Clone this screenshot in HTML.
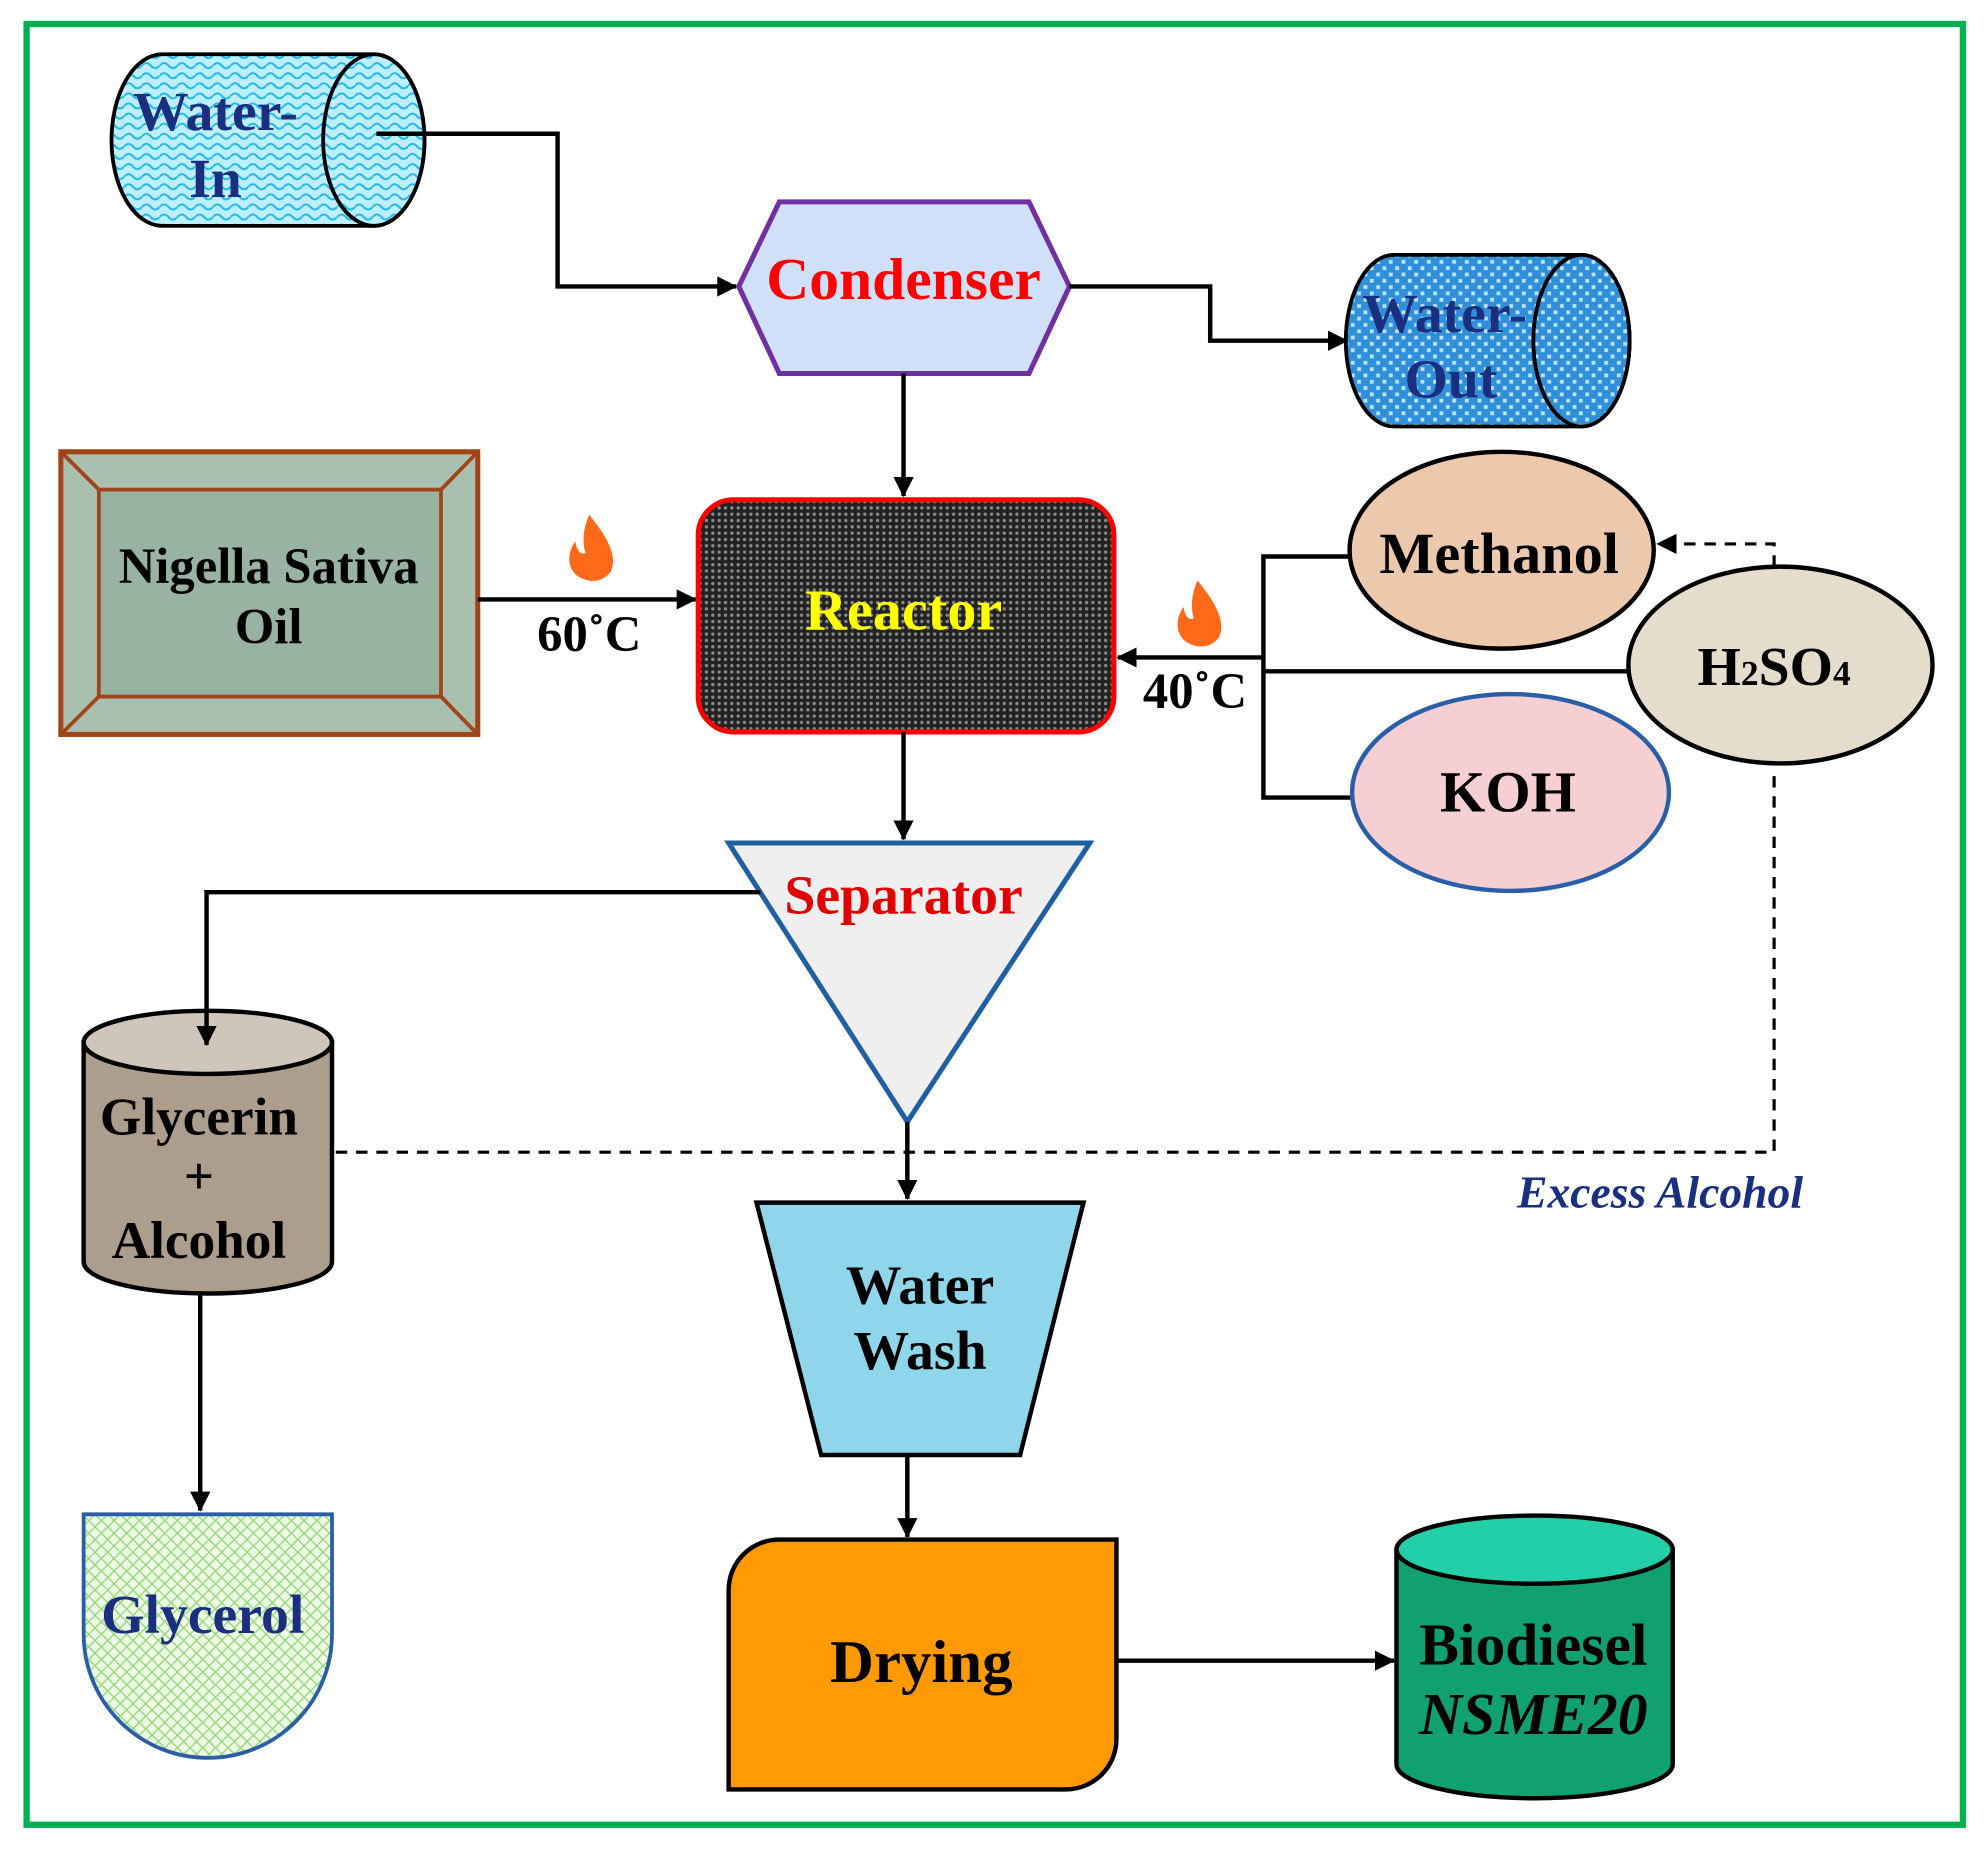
<!DOCTYPE html>
<html><head><meta charset="utf-8"><style>
html,body{margin:0;padding:0;background:#fff;}
svg{display:block;}
text{font-family:"Liberation Serif",serif;font-weight:bold;text-anchor:middle;}
</style></head><body>
<svg width="1987" height="1850" viewBox="0 0 1568 1466" preserveAspectRatio="none" xmlns="http://www.w3.org/2000/svg">
<defs>
<marker id="ar2" markerWidth="16" markerHeight="16" refX="15" refY="8" orient="auto" markerUnits="userSpaceOnUse"><path d="M0,0 L16,8 L0,16 Z" fill="#000"/></marker>
<pattern id="wave" width="14" height="8" patternUnits="userSpaceOnUse"><rect width="14" height="8" fill="#bdefff"/><path d="M0,4 Q3.5,0 7,4 T14,4" stroke="#22b8e8" stroke-width="1.6" fill="none"/></pattern>
<pattern id="dots" width="5" height="5" patternUnits="userSpaceOnUse"><rect width="5" height="5" fill="#222"/><circle cx="2.5" cy="2.5" r="1.3" fill="#8a8a8a"/></pattern>
<pattern id="blue" width="10" height="10" patternUnits="userSpaceOnUse"><rect width="10" height="10" fill="#2f8fd8"/><rect x="1" y="1" width="3" height="3" fill="#bfe4ff"/><rect x="6" y="6" width="3" height="3" fill="#bfe4ff"/></pattern>
<pattern id="green" width="10" height="10" patternUnits="userSpaceOnUse"><rect width="10" height="10" fill="#eef9e6"/><path d="M0,5 L5,0 L10,5 L5,10 Z" stroke="#8fd870" stroke-width="1" fill="none"/></pattern>
</defs>
<rect x="21" y="19" width="1528" height="1427" fill="none" stroke="#00b050" stroke-width="5"/>

<!-- Water-In -->
<path d="M128,43 H295 A40,68 0 0 1 295,179 H128 A40,68 0 0 1 128,43 Z" fill="url(#wave)" stroke="#000" stroke-width="3"/>
<ellipse cx="295" cy="111" rx="40" ry="68" fill="url(#wave)" stroke="#000" stroke-width="3"/>
<text x="170" y="103" font-size="44" fill="#1a2f80">Water-</text>
<text x="170" y="156" font-size="44" fill="#1a2f80">In</text>
<polyline points="297,106 440,106 440,227 581,227" fill="none" stroke="#000" stroke-width="3.5" marker-end="url(#ar2)"/>

<!-- Condenser -->
<polygon points="583,227 615,160 812,160 844,227 812,296 615,296" fill="#cfe0f8" stroke="#7030a0" stroke-width="4"/>
<text x="713" y="237" font-size="47" fill="#ff0000">Condenser</text>
<polyline points="844,227 955,227 955,270 1063,270" fill="none" stroke="#000" stroke-width="3.5" marker-end="url(#ar2)"/>
<line x1="713" y1="296" x2="713" y2="393" stroke="#000" stroke-width="3.5" marker-end="url(#ar2)"/>

<!-- Water-Out -->
<path d="M1100,202 H1248 A38,68 0 0 1 1248,338 H1100 A38,68 0 0 1 1100,202 Z" fill="url(#blue)" stroke="#000" stroke-width="3"/>
<ellipse cx="1248" cy="270" rx="38" ry="68" fill="url(#blue)" stroke="#000" stroke-width="3"/>
<text x="1140" y="263" font-size="44" fill="#1a2f80">Water-</text>
<text x="1145" y="315" font-size="44" fill="#1a2f80">Out</text>

<!-- Nigella -->
<rect x="48" y="358" width="329" height="224" fill="#a9c0b0" stroke="#a0441a" stroke-width="4"/>
<rect x="78" y="388" width="270" height="164" fill="#98b3a2" stroke="#a0441a" stroke-width="3"/>
<path d="M48,358 L78,388 M377,358 L348,388 M48,582 L78,552 M377,582 L348,552" stroke="#a0441a" stroke-width="3"/>
<text x="212" y="462" font-size="40" fill="#000">Nigella Sativa</text>
<text x="212" y="510" font-size="40" fill="#000">Oil</text>
<line x1="377" y1="475" x2="549" y2="475" stroke="#000" stroke-width="3.5" marker-end="url(#ar2)"/>
<path d="M465,408 C478,424 488,440 482,453 C477,460 468,462 461,459 C448,455 446,440 454,429 C455,437 459,440 462,438 C459,428 461,417 465,408 Z" fill="#ff6a1a"/>
<text x="465" y="516" font-size="40" fill="#000">60˚C</text>

<!-- Reactor -->
<rect x="551" y="396" width="328" height="184" rx="28" fill="url(#dots)" stroke="#ff0000" stroke-width="4"/>
<text x="713" y="499" font-size="46" fill="#ffff00">Reactor</text>

<!-- right feeds -->
<line x1="997" y1="521" x2="882" y2="521" stroke="#000" stroke-width="3.5" marker-end="url(#ar2)"/>
<polyline points="1066,441 997,441 997,632 1068,632" fill="none" stroke="#000" stroke-width="3.5"/>
<line x1="997" y1="532" x2="1287" y2="532" stroke="#000" stroke-width="3.5"/>
<path d="M945,460 C958,476 968,492 962,505 C957,512 948,514 941,511 C928,507 926,492 934,481 C935,489 939,492 942,490 C939,480 941,469 945,460 Z" fill="#ff6a1a"/>
<text x="943" y="561" font-size="40" fill="#000">40˚C</text>

<ellipse cx="1185" cy="436" rx="120" ry="78" fill="#ecc9ad" stroke="#000" stroke-width="3.5"/>
<text x="1183" y="454" font-size="46" fill="#000">Methanol</text>
<ellipse cx="1405" cy="527" rx="120" ry="78" fill="#e6dccb" stroke="#000" stroke-width="3.5"/>
<text x="1400" y="543" font-size="44" fill="#000">H<tspan font-size="28">2</tspan>SO<tspan font-size="28">4</tspan></text>
<ellipse cx="1192" cy="628" rx="125" ry="78" fill="#f5cfd2" stroke="#2a5fa8" stroke-width="3.5"/>
<text x="1190" y="643" font-size="46" fill="#000">KOH</text>

<polyline points="1400,449 1400,431 1308,431" fill="none" stroke="#000" stroke-width="2.5" stroke-dasharray="9,7" marker-end="url(#ar2)"/>
<polyline points="1400,615 1400,913 262,913" fill="none" stroke="#000" stroke-width="2.5" stroke-dasharray="9,7"/>
<text x="1310" y="957" font-size="36" fill="#1a2f80" font-style="italic">Excess Alcohol</text>

<line x1="713" y1="580" x2="713" y2="665" stroke="#000" stroke-width="3.5" marker-end="url(#ar2)"/>

<!-- Separator -->
<polygon points="575,668 860,668 716,889" fill="#efefef" stroke="#2060a0" stroke-width="4"/>
<text x="713" y="724" font-size="44" fill="#e00000">Separator</text>

<!-- Glycerin -->
<path d="M66,826 V1000 A98,25 0 0 0 262,1000 V826 Z" fill="#ad9d8c" stroke="#000" stroke-width="3.5"/>
<ellipse cx="164" cy="826" rx="98" ry="25" fill="#cfc5bb" stroke="#000" stroke-width="3.5"/>
<polyline points="600,707 163,707 163,828" fill="none" stroke="#000" stroke-width="3.5" marker-end="url(#ar2)"/>
<text x="157" y="899" font-size="42" fill="#000">Glycerin</text>
<text x="157" y="946" font-size="42" fill="#000">+</text>
<text x="157" y="997" font-size="42" fill="#000">Alcohol</text>
<line x1="158" y1="1025" x2="158" y2="1197" stroke="#000" stroke-width="3.5" marker-end="url(#ar2)"/>

<!-- Glycerol -->
<path d="M66,1200 H262 V1295 A98,98 0 0 1 66,1295 Z" fill="url(#green)" stroke="#2a5fa8" stroke-width="3"/>
<text x="160" y="1294" font-size="44" fill="#1a2f80">Glycerol</text>

<line x1="716" y1="889" x2="716" y2="950" stroke="#000" stroke-width="3.5" marker-end="url(#ar2)"/>

<!-- Water Wash -->
<polygon points="597,953 855,953 805,1153 648,1153" fill="#8fd6ea" stroke="#000" stroke-width="3.5"/>
<text x="726" y="1033" font-size="44" fill="#000">Water</text>
<text x="726" y="1085" font-size="44" fill="#000">Wash</text>
<line x1="716" y1="1153" x2="716" y2="1218" stroke="#000" stroke-width="3.5" marker-end="url(#ar2)"/>

<!-- Drying -->
<path d="M615,1220 H881 V1378 A40,40 0 0 1 841,1418 H575 V1260 A40,40 0 0 1 615,1220 Z" fill="#ff9a05" stroke="#000" stroke-width="3.5"/>
<text x="727" y="1333" font-size="48" fill="#000">Drying</text>
<line x1="881" y1="1316" x2="1100" y2="1316" stroke="#000" stroke-width="3.5" marker-end="url(#ar2)"/>

<!-- Biodiesel -->
<path d="M1102,1228 V1398 A109,27 0 0 0 1320,1398 V1228 Z" fill="#10a072" stroke="#000" stroke-width="3.5"/>
<ellipse cx="1211" cy="1228" rx="109" ry="27" fill="#22cfa8" stroke="#000" stroke-width="3.5"/>
<text x="1210" y="1319" font-size="47" fill="#000">Biodiesel</text>
<text x="1210" y="1374" font-size="47" fill="#000" font-style="italic">NSME20</text>
</svg>
</body></html>
